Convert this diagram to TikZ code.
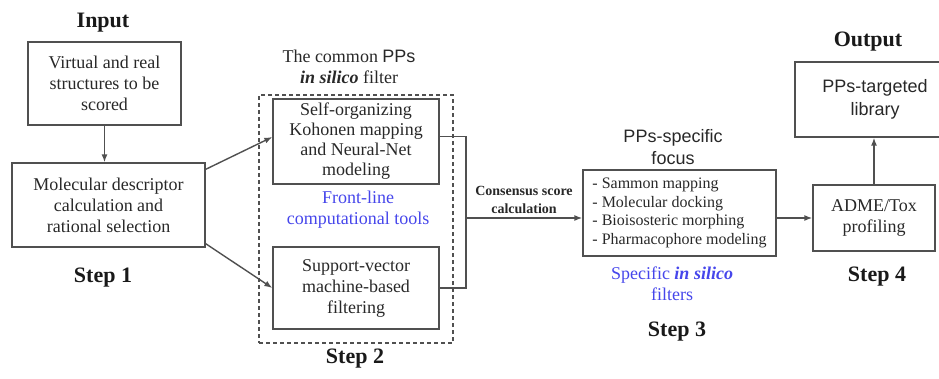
\documentclass[tikz,border=0pt]{standalone}
\usepackage{fontspec}
\setmainfont{Liberation Serif}
\newfontfamily\arialfont{Liberation Sans}
\usetikzlibrary{arrows.meta,positioning}
\definecolor{linegray}{RGB}{80,80,80}
\definecolor{textgray}{RGB}{40,40,40}
\definecolor{toolblue}{RGB}{70,70,235}
\tikzset{
	%Standard arrow tip
	>={Latex[length=8pt,width=6pt]},
	%Style for the boxes
	kasse/.style={
		rectangle,
		draw=linegray, line width=1.3pt,
		text=textgray,
		align=center,
		inner sep=0pt,
		font=\fontsize{18}{21}\selectfont},
	%Style for the step headings
	tittel/.style={
		inner sep=0pt,
		text=black!90,
		font=\bfseries\fontsize{22}{24}\selectfont},
	%Style for loose notes
	notiz/.style={
		align=center,
		inner sep=0pt,
		text=textgray,
		font=\fontsize{18}{21}\selectfont},
	% Arrow style
	pil/.style={
		draw=linegray,
		line width=1.4pt}
}
\begin{document}
\begin{tikzpicture}[x=1pt, y=-1pt]
	\useasboundingbox (0,0) rectangle (939,378);

	% step 1
	\node[tittel] (input-tittel) at (103,23) {Input};
	\node[kasse, minimum width=153pt, minimum height=83pt] (input-box) at (104.5,83.5) {Virtual and real\\ structures to be\\ scored};
	\node[kasse, minimum width=193pt, minimum height=84pt] (desc-box) at (108.5,205) {Molecular descriptor\\ calculation and\\ rational selection};
	\node[tittel] (step1) at (103,278) {Step 1};

	% step 2
	\node[notiz] (common-text) at (349,67) {The common {\arialfont PPs}\\ {\bfseries\itshape in silico} filter};
	\node[draw=linegray, line width=1.6pt, dash pattern=on 4pt off 3pt, minimum width=194pt, minimum height=248pt, inner sep=0pt] (filter-frame) at (356,219) {};
	\node[kasse, minimum width=166pt, minimum height=85pt, font=\fontsize{18}{20}\selectfont] (som-box) at (356,141.5) {Self-organizing\\ Kohonen mapping\\ and Neural-Net\\ modeling};
	\node[notiz, text=toolblue] (tools-text) at (358,210) {Front-line\\ computational tools};
	\node[kasse, minimum width=166pt, minimum height=82pt] (svm-box) at (356,288) {Support-vector\\ machine-based\\ filtering};
	\node[tittel] (step2) at (355,359) {Step 2};

	% step 3
	\coordinate (join) at (466,218);
	\node[notiz, font=\bfseries\fontsize{14}{18}\selectfont] (score-text) at (524,200) {Consensus score\\ calculation};
	\node[notiz, font=\arialfont\fontsize{18}{22}\selectfont] (focus-text) at (673,147) {PPs-specific\\ focus};
	\node[kasse, minimum width=193pt, minimum height=86pt, align=left, font=\fontsize{16}{18.5}\selectfont] (focus-box) at (679.5,213) {- Sammon mapping\\ - Molecular docking\\ - Bioisosteric morphing\\ - Pharmacophore modeling};
	\node[notiz, text=toolblue] (specific-text) at (672,284) {Specific {\bfseries\itshape in silico}\\ filters};
	\node[tittel] (step3) at (677,332) {Step 3};

	% step 4
	\node[tittel] (output-tittel) at (868,42) {Output};
	\node[kasse, minimum width=160pt, minimum height=75pt, font=\arialfont\fontsize{18}{23}\selectfont] (lib-box) at (875,99.5) {PPs-targeted\\ library};
	\node[kasse, minimum width=122pt, minimum height=66pt] (adme-box) at (874,218) {ADME/Tox\\ profiling};
	\node[tittel] (step4) at (877,277) {Step 4};

	% connectors
	\draw[pil, ->] (input-box.south) -- (input-box.south |- desc-box.north);
	\draw[pil, ->] ([yshift=-7pt]desc-box.north east) -- ([yshift=4.5pt]som-box.west);
	\draw[pil, ->] ([yshift=4pt]desc-box.south east) -- (svm-box.west);
	\draw[pil] ([yshift=5pt]som-box.east) -| (join) |- (svm-box.east);
	\draw[pil, ->] (join) -- (join -| focus-box.west);
	\draw[pil, ->] (focus-box.east |- adme-box.west) -- (adme-box.west);
	\draw[pil, ->] (adme-box.north) -- (adme-box.north |- lib-box.south);

\end{tikzpicture}
\end{document}
